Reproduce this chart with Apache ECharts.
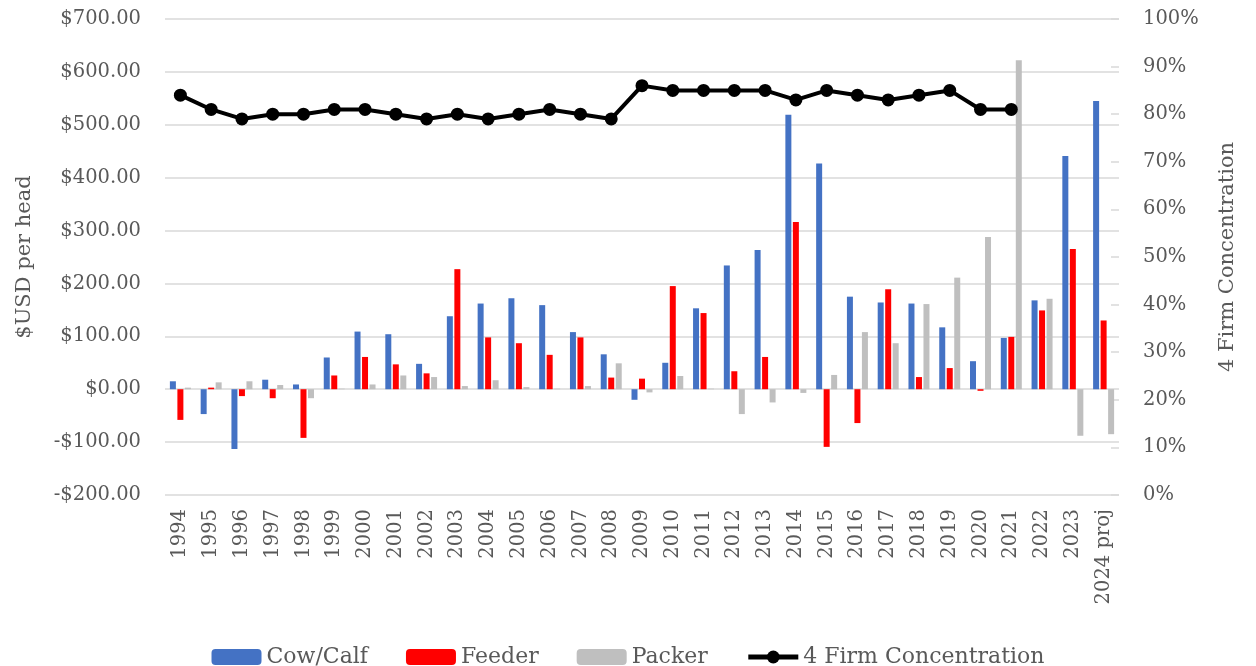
<!DOCTYPE html>
<html><head><meta charset="utf-8">
<script src="https://cdn.jsdelivr.net/npm/echarts@6/dist/echarts.min.js"></script>
<style>html,body{margin:0;padding:0;background:#fff}#c{width:1256px;height:666px}</style>
</head><body><div id="c"></div>
<script>
var years = ['1994','1995','1996','1997','1998','1999','2000','2001','2002','2003','2004','2005','2006','2007','2008','2009','2010','2011','2012','2013','2014','2015','2016','2017','2018','2019','2020','2021','2022','2023','2024 proj'];
var cowCalf = [15,-47,-113,18,9,60,109,104,48,138,162,172,159,108,66,-20,50,153,234,263,519,427,175,164,162,117,53,97,168,441,545];
var feeder = [-58,3,-13,-17,-92,26,61,47,30,227,98,87,65,98,22,20,195,144,34,61,316,-109,-64,189,23,40,-3,99,149,265,130];
var packer = [3,13,15,8,-17,1,9,26,23,6,17,4,1,6,49,-6,25,1,-47,-25,-7,27,108,87,161,211,288,622,171,-88,-85];
var concentration = [84,81,79,80,80,81,81,80,79,80,79,80,81,80,79,86,85,85,85,85,83,85,84,83,84,85,81,81,null,null,null];
var leftTicks = {min:-200, max:700, interval:100};
var rightTicks = {min:0, max:100, interval:10};

var FONT = 'DejaVu Serif';
var TXT = '#595959';
var chart = echarts.init(document.getElementById('c'));
function money(v){ return (v<0?'-$':'$') + Math.abs(v).toFixed(2); }
var barCommon = {type:'bar', barWidth:6, barGap:'25%'};
chart.setOption({
  animation:false,
  textStyle:{fontFamily:FONT},
  grid:{left:165, right:137, top:19, bottom:171},
  legend:{
    top:641, left:'center', itemWidth:50, itemHeight:16, itemGap:38,
    textStyle:{fontFamily:FONT, fontSize:22, color:TXT},
    data:['Cow/Calf','Feeder','Packer',
      {name:'4 Firm Concentration', itemStyle:{color:'#000'}, lineStyle:{width:5, color:'#000'}}]
  },
  xAxis:{
    type:'category', data:years,
    axisLine:{show:false}, axisTick:{show:false},
    axisLabel:{rotate:90, interval:0, fontFamily:FONT, fontSize:19.5, color:TXT, margin:14}
  },
  yAxis:[{
    type:'value', min:leftTicks.min, max:leftTicks.max, interval:leftTicks.interval,
    name:'$USD per head', nameLocation:'middle', nameRotate:90, nameGap:130,
    nameTextStyle:{fontFamily:FONT, fontSize:21, color:TXT},
    axisLabel:{formatter:money, fontFamily:FONT, fontSize:19.5, color:TXT, margin:24},
    axisLine:{show:false}, axisTick:{show:false},
    splitLine:{lineStyle:{color:'#d9d9d9', width:1.5}}
  },{
    type:'value', min:rightTicks.min, max:rightTicks.max, interval:rightTicks.interval,
    name:'4 Firm Concentration', nameLocation:'middle', nameRotate:90, nameGap:98,
    nameTextStyle:{fontFamily:FONT, fontSize:21, color:TXT},
    axisLabel:{formatter:'{value}%', fontFamily:FONT, fontSize:19.5, color:TXT, margin:24},
    axisLine:{show:false},
    axisTick:{show:true, inside:true, length:8, lineStyle:{color:'#d9d9d9', width:1.5}},
    splitLine:{show:false}
  }],
  series:[
    Object.assign({name:'Cow/Calf', data:cowCalf, itemStyle:{color:'#4472C4'}}, barCommon),
    Object.assign({name:'Feeder', data:feeder, itemStyle:{color:'#FF0000'}}, barCommon),
    Object.assign({name:'Packer', data:packer, itemStyle:{color:'#BFBFBF'}}, barCommon),
    {name:'4 Firm Concentration', type:'line', yAxisIndex:1, data:concentration,
     symbol:'circle', symbolSize:13, z:5,
     lineStyle:{color:'#000', width:4}, itemStyle:{color:'#000'}}
  ]
});
</script></body></html>
